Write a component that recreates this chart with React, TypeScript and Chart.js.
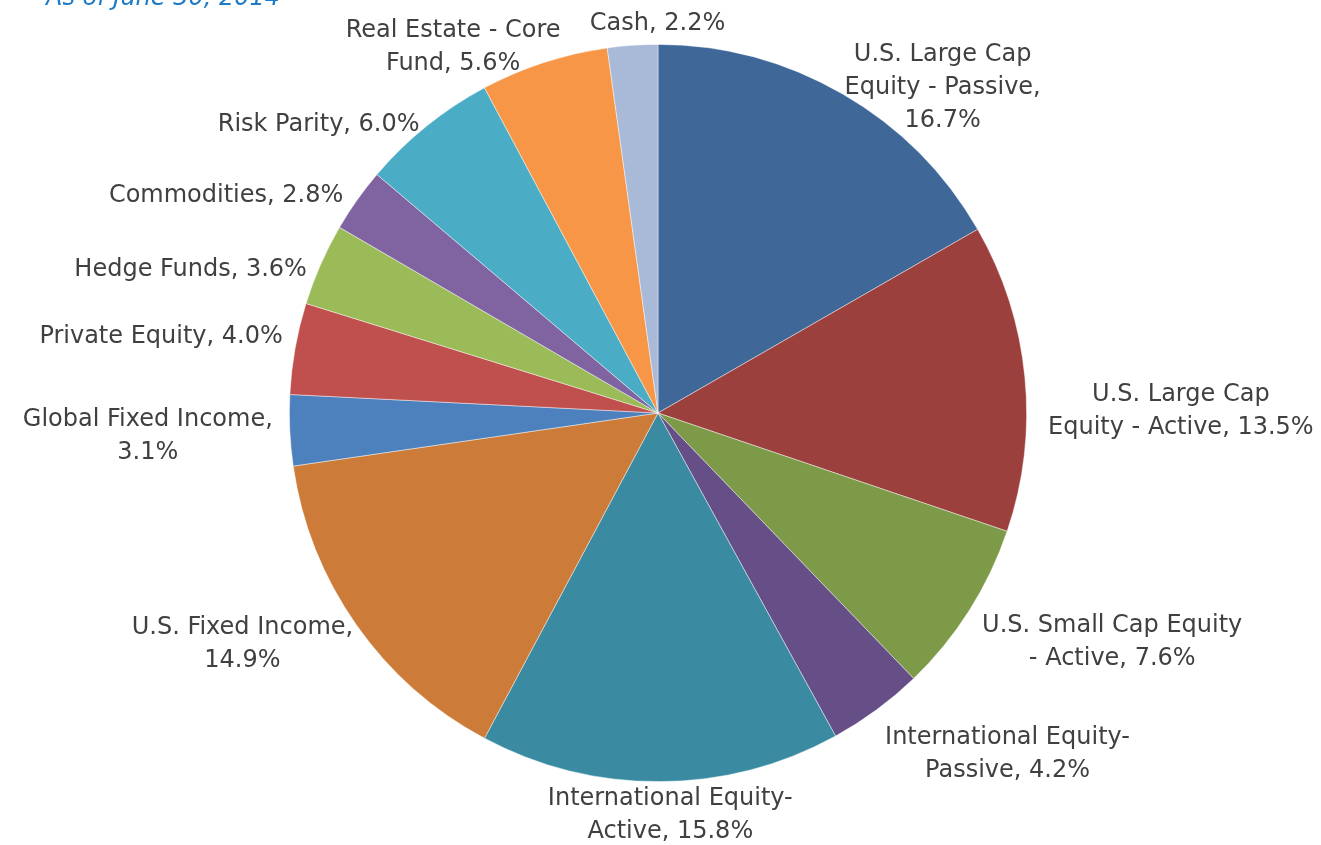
import React, { useEffect, useRef } from "react";
import { Chart, registerables } from "chart.js";

Chart.register(...registerables);

const categories: string[][] = [
  ["U.S. Large Cap", "Equity - Passive,"],
  ["U.S. Large Cap", "Equity - Active,"],
  ["U.S. Small Cap Equity", "- Active,"],
  ["International Equity-", "Passive,"],
  ["International Equity-", "Active,"],
  ["U.S. Fixed Income,"],
  ["Global Fixed Income,"],
  ["Private Equity,"],
  ["Hedge Funds,"],
  ["Commodities,"],
  ["Risk Parity,"],
  ["Real Estate - Core", "Fund,"],
  ["Cash,"],
];

const values: number[] = [16.7, 13.5, 7.6, 4.2, 15.8, 14.9, 3.1, 4.0, 3.6, 2.8, 6.0, 5.6, 2.2];

const colors: string[] = [
  "#3F6899", "#9C403D", "#7D9A48", "#664F86", "#3A8BA2", "#CC7B38", "#4D81BD",
  "#C0504D", "#9BBB59", "#8064A2", "#4BACC6", "#F79646", "#A9B9D8",
];

// how the percentage joins the last label line: "same" = appended, "new" = own line
const pctPlacement: string[] = ["new", "same", "same", "same", "same", "new", "new", "same", "same", "same", "same", "same", "same"];

// label nudges (px) relative to the slice's outer mid-point
const labelNudge: [number, number][] = [
  [100, -6], [156, 34], [143, 32], [131, 44], [10, 34], [-114, 19], [-142, 6],
  [-134, -12], [-130, 5], [-131, -4], [-108, -1], [-91, -15], [25, -22],
];

const titleText = "As of June 30, 2014";

const FONT = "24px 'DejaVu Sans'";
const LINE_H = 33;

const labelPlugin = {
  id: "pieLabels",
  afterDraw(chart: any) {
    const ctx = chart.ctx;
    const meta = chart.getDatasetMeta(0);
    ctx.save();
    ctx.font = FONT;
    ctx.fillStyle = "#404040";
    ctx.textAlign = "center";
    ctx.textBaseline = "middle";
    meta.data.forEach((arc: any, i: number) => {
      const { x, y, startAngle, endAngle, outerRadius } = arc.getProps(
        ["x", "y", "startAngle", "endAngle", "outerRadius"],
        true
      );
      const mid = (startAngle + endAngle) / 2;
      const px = x + Math.cos(mid) * outerRadius + labelNudge[i][0];
      const py = y + Math.sin(mid) * outerRadius + labelNudge[i][1];
      const lines = categories[i].slice();
      const pct = values[i].toFixed(1) + "%";
      if (pctPlacement[i] === "new") lines.push(pct);
      else lines[lines.length - 1] = lines[lines.length - 1] + " " + pct;
      const n = lines.length;
      lines.forEach((ln, k) => {
        ctx.fillText(ln, px, py + (k - (n - 1) / 2) * LINE_H);
      });
    });
    // cut-off subtitle at the top left
    ctx.font = "italic 24px 'DejaVu Sans'";
    ctx.fillStyle = "#1F7BC6";
    ctx.textAlign = "left";
    ctx.textBaseline = "alphabetic";
    ctx.fillText(titleText, 46, 5);
    ctx.restore();
  },
};

export default function App() {
  const ref = useRef<HTMLCanvasElement | null>(null);
  useEffect(() => {
    if (!ref.current) return;
    const chart = new Chart(ref.current, {
      type: "pie",
      data: {
        labels: categories.map((c) => c.join(" ")),
        datasets: [
          {
            data: values,
            backgroundColor: colors,
            borderColor: "rgba(255,255,255,0.55)",
            borderWidth: 0.8,
          },
        ],
      },
      options: {
        animation: false,
        responsive: false,
        maintainAspectRatio: false,
        layout: { padding: { top: 44, bottom: 63, left: 289, right: 294 } },
        plugins: {
          legend: { display: false },
          tooltip: { enabled: false },
          title: { display: false },
        },
      },
      plugins: [labelPlugin],
    });
    return () => chart.destroy();
  }, []);
  return (
    <div style={{ position: "absolute", left: 0, top: 0, width: 1321, height: 845, background: "#fff" }}>
      <canvas ref={ref} width={1321} height={845} style={{ width: 1321, height: 845 }} />
    </div>
  );
}
